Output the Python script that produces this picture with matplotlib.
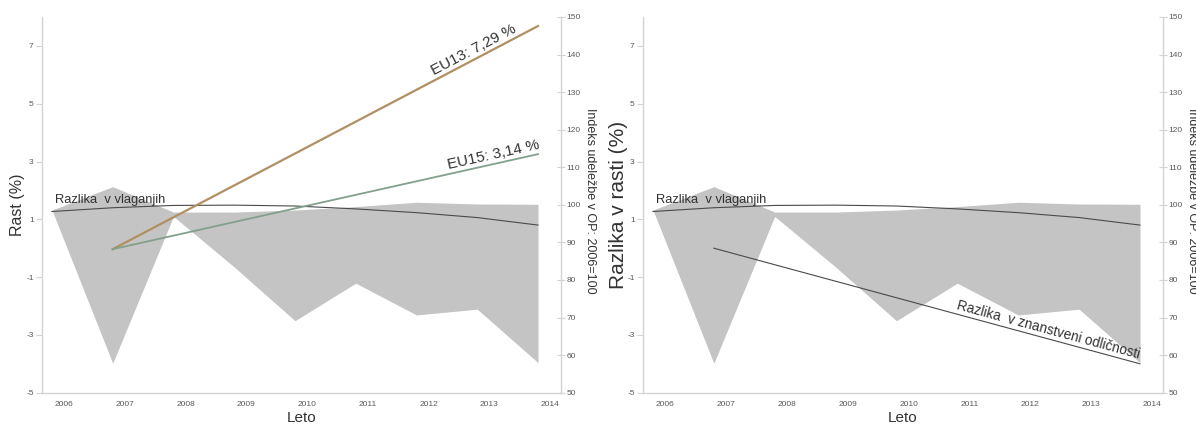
import math
import matplotlib
matplotlib.use("Agg")
import matplotlib.pyplot as plt

plt.rcParams['font.family'] = ['Liberation Sans', 'DejaVu Sans']

# Years on the horizontal axis
years = [2006, 2007, 2008, 2009, 2010, 2011, 2012, 2013, 2014]

# Shaded band: upper and lower edge (growth difference, %)
band_upper = [1.32, 2.13, 1.25, 1.25, 1.32, 1.44, 1.59, 1.53, 1.52]
band_lower = [1.32, -3.98, 1.10, -0.65, -2.51, -1.21, -2.31, -2.11, -3.96]

# Difference in investment (trend curve, %)
invest_gap = [1.27, 1.40, 1.48, 1.49, 1.46, 1.36, 1.23, 1.06, 0.80]

# Participation index in OP (2006 = 100), trend endpoints
trend_years = [2007, 2014]
eu13_index = [88.2, 147.6]
eu15_index = [88.2, 113.5]
eu13_label = "EU13: 7,29 %"
eu15_label = "EU15: 3,14 %"

# Difference in scientific excellence (%), trend endpoints
science_gap = [0.0, -4.0]

left_ticks = [-5, -3, -1, 1, 3, 5, 7]
right_ticks = [50, 60, 70, 80, 90, 100, 110, 120, 130, 140, 150]

W, H = 1196, 425
fig = plt.figure(figsize=(W / 100, H / 100), dpi=100)

SPINE = '#d3d3d3'
TICKC = '#5a5a5a'
TEXTC = '#333333'
BAND = '#c4c4c4'


def style_axes(ax, axr, ylabel, ylabel_size):
    ax.set_xlim(2005.836, 2014.378)
    ax.set_ylim(-5, 8)
    axr.set_ylim(50, 150)
    for a in (ax, axr):
        a.spines['top'].set_visible(False)
        for s in ('left', 'right', 'bottom'):
            a.spines[s].set_color(SPINE)
            a.spines[s].set_linewidth(1.0)
    ax.spines['right'].set_visible(False)
    axr.spines['left'].set_visible(False)
    axr.spines['bottom'].set_visible(False)
    ax.set_yticks(left_ticks)
    ax.set_yticklabels([str(t) for t in left_ticks])
    ax.tick_params(axis='y', direction='out', length=4, width=0.8,
                   color=SPINE, labelsize=6, labelcolor=TICKC, pad=2)
    ax.set_xticks([y + 0.2 for y in years])
    ax.set_xticklabels([str(y) for y in years])
    ax.tick_params(axis='x', length=0, labelsize=6, labelcolor=TICKC, pad=6)
    axr.set_yticks(right_ticks)
    axr.tick_params(axis='y', direction='inout', length=6, width=0.8,
                    color=SPINE, labelsize=6, labelcolor=TICKC, pad=1)
    ax.set_xlabel("Leto", fontsize=11, color=TEXTC, va='center')
    ax.xaxis.set_label_coords(0.5, -0.067)
    ax.set_ylabel(ylabel, fontsize=ylabel_size, color=TEXTC, va='center')
    ax.yaxis.set_label_coords(-0.047, 0.5)
    axr.set_ylabel("Indeks udeležbe v OP: 2006=100", fontsize=9,
                   color=TEXTC, rotation=-90, va='center')
    axr.yaxis.set_label_coords(1.056, 0.51)


def draw_base(ax):
    ax.fill_between(years, band_lower, band_upper, color=BAND, lw=0,
                    zorder=1)
    ax.plot(years, invest_gap, color='#4a4a4a', lw=0.8, zorder=3)
    ax.text(2006.05, 1.56, "Razlika  v vlaganjih", fontsize=9.3,
            color=TEXTC, ha='left', va='baseline', zorder=4)


def line_label(ax, xs, ys, x_at, text, size, offset=2.0):
    p1 = ax.transData.transform((xs[0], ys[0]))
    p2 = ax.transData.transform((xs[1], ys[1]))
    ang = math.degrees(math.atan2(p2[1] - p1[1], p2[0] - p1[0]))
    y_at = ys[0] + (ys[1] - ys[0]) * (x_at - xs[0]) / (xs[1] - xs[0])
    ax.annotate(text, (x_at, y_at), xytext=(0, offset),
                textcoords='offset points', rotation=ang,
                rotation_mode='anchor', ha='center', va='bottom',
                fontsize=size, color=TEXTC, zorder=5)


bottom = 1 - 392.7 / H
top = 1 - 17 / H

# Left panel
ax1 = fig.add_axes([42 / W, bottom, 519 / W, top - bottom])
ax1r = ax1.twinx()
style_axes(ax1, ax1r, "Rast (%)", 11.5)
draw_base(ax1)
ax1r.plot(trend_years, eu13_index, color='#b28f62', lw=1.6, zorder=3)
ax1r.plot(trend_years, eu15_index, color='#82a08c', lw=1.3, zorder=3)

# Right panel
ax2 = fig.add_axes([643 / W, bottom, 520 / W, top - bottom])
ax2r = ax2.twinx()
style_axes(ax2, ax2r, "Razlika v rasti (%)", 15)
draw_base(ax2)
ax2.plot(trend_years, science_gap, color='#4a4a4a', lw=0.8, zorder=3)

line_label(ax1r, trend_years, eu13_index, 2013.0, eu13_label, 11, 1.5)
line_label(ax1r, trend_years, eu15_index, 2013.3, eu15_label, 11, 1.5)
line_label(ax2, trend_years, science_gap, 2012.46,
           "Razlika  v znanstveni odličnosti", 9.8, 1.5)

fig.savefig("out.png", dpi=100)
